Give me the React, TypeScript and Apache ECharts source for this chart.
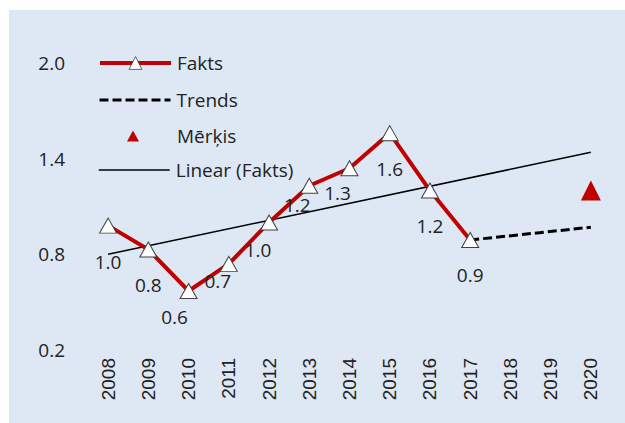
import React, { useEffect, useRef } from "react";
import * as echarts from "echarts";

const years = ["2008","2009","2010","2011","2012","2013","2014","2015","2016","2017","2018","2019","2020"];
const fakts = [0.98, 0.83, 0.57, 0.74, 1.0, 1.23, 1.34, 1.56, 1.2, 0.89, null, null, null];
const trends = [null, null, null, null, null, null, null, null, null, 0.89, null, null, 0.97];
const merkis = [null, null, null, null, null, null, null, null, null, null, null, null, 1.2];
const linear = [0.8, null, null, null, null, null, null, null, null, null, null, null, 1.44];
const labelOffsets: [number, number][] = [
  [0, 36], [0, 35], [-14, 26], [-11, 17], [-11, 28], [-12, 19], [-12, 25], [0, 36], [0, 35], [0, 35],
];
const yTickLabels = [0.2, 0.8, 1.4, 2.0];

const RED = "#c00000";
const TEXT = "#222222";
const FONT = "'Open Sans', sans-serif";

export default function App() {
  const ref = useRef<HTMLDivElement>(null);
  useEffect(() => {
    if (!ref.current) return;
    const chart = echarts.init(ref.current, undefined, { renderer: "svg" });
    const legendText = { fontFamily: FONT, fontSize: 19, color: TEXT, lineHeight: 20, padding: [0, 0, 0, 1] };
    const legendBase = {
      orient: "vertical" as const,
      left: 89,
      padding: 0,
      itemWidth: 71,
      itemHeight: 14,
      textStyle: legendText,
      selectedMode: false,
      itemGap: 0,
    };
    chart.setOption({
      animation: false,
      backgroundColor: "#dee8f4",
      grid: { left: 79, right: 14, top: 53, bottom: 73, containLabel: false },
      legend: [
        {
          ...legendBase,
          top: 43,
          itemHeight: 16,
          data: ["Fakts"],
          lineStyle: { width: 4, color: RED },
          itemStyle: { color: "#ffffff", borderColor: "#404040", borderWidth: 0.8 },
        },
        {
          ...legendBase,
          top: 80,
          data: ["Trends"],
          lineStyle: { width: 3, color: "#000", type: [9, 4] },
          itemStyle: { opacity: 0 },
        },
        {
          ...legendBase,
          top: 116,
          left: 118,
          itemWidth: 12,
          itemHeight: 11,
          data: ["Mērķis"],
          itemStyle: { color: RED, opacity: 1 },
          textStyle: { ...legendText, padding: [0, 0, 0, 33] },
        },
        {
          ...legendBase,
          top: 150,
          data: ["Linear (Fakts)"],
          lineStyle: { width: 1.5, color: "#000" },
          itemStyle: { opacity: 0 },
        },
      ],
      xAxis: {
        type: "category",
        data: years,
        boundaryGap: true,
        axisLine: { show: false },
        axisTick: { show: false },
        splitLine: { show: false },
        axisLabel: {
          rotate: 90,
          margin: 8,
          interval: 0,
          fontFamily: "'Liberation Sans', Arial, sans-serif",
          fontSize: 19,
          color: TEXT,
        },
      },
      yAxis: {
        type: "value",
        min: 0.2,
        max: 2.0,
        interval: 0.2,
        axisLine: { show: false },
        axisTick: { show: false },
        splitLine: { show: false },
        axisLabel: {
          margin: 23,
          fontFamily: FONT,
          fontSize: 19,
          color: TEXT,
          formatter: (v: number) =>
            yTickLabels.some((t) => Math.abs(t - v) < 1e-6) ? v.toFixed(1) : "",
        },
      },
      series: [
        {
          name: "Linear (Fakts)",
          type: "line",
          data: linear,
          connectNulls: true,
          symbol: "none",
          lineStyle: { color: "#000", width: 1.5 },
          itemStyle: { color: "#000" },
          z: 2,
        },
        {
          name: "Trends",
          type: "line",
          data: trends,
          connectNulls: true,
          symbol: "none",
          lineStyle: { color: "#000", width: 3, type: [9, 4] },
          itemStyle: { color: "#000" },
          z: 2,
        },
        {
          name: "Fakts",
          type: "line",
          data: fakts.map((v, i) =>
            v == null
              ? null
              : { value: v, label: { offset: labelOffsets[i] } }
          ),
          symbol: "triangle",
          symbolSize: [17, 15],
          showAllSymbol: true,
          lineStyle: { color: RED, width: 4 },
          itemStyle: { color: "#ffffff", borderColor: "#404040", borderWidth: 1 },
          label: {
            show: true,
            position: "inside",
            fontFamily: FONT,
            fontSize: 19,
            color: TEXT,
            formatter: (p: any) => Number(p.value).toFixed(1),
          },
          z: 3,
        },
        {
          name: "Mērķis",
          type: "scatter",
          data: merkis,
          symbol: "triangle",
          symbolSize: 20,
          itemStyle: { color: RED, opacity: 1 },
          z: 4,
        },
      ],
    });
    return () => chart.dispose();
  }, []);
  return (
    <div style={{ position: "fixed", left: 0, top: 0, width: 625, height: 423, background: "#ffffff" }}>
      <div ref={ref} style={{ position: "absolute", left: 9, top: 10, width: 616, height: 413 }} />
    </div>
  );
}
